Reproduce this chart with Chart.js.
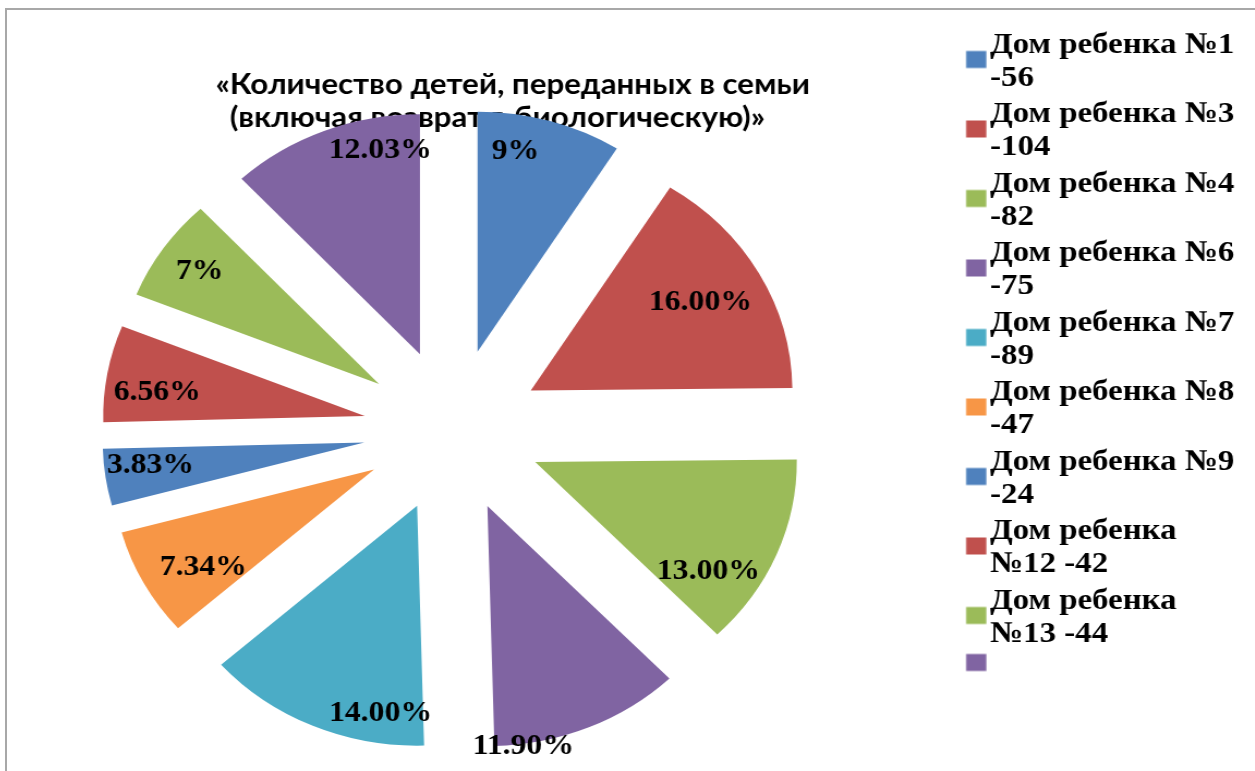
<!DOCTYPE html>
<html><head><meta charset="utf-8">
<script src="https://cdn.jsdelivr.net/npm/chart.js@4.4.1/dist/chart.umd.min.js"></script>
<style>
html,body{margin:0;padding:0;background:#fff;overflow:hidden;width:1255px;height:771px;position:relative;}
#frame{position:absolute;left:5px;top:8px;width:1400px;height:900px;border:2px solid #a8a8a8;box-sizing:border-box;}
#c{position:absolute;top:0;}
</style></head><body>
<div id="frame"></div>
<canvas id="c"></canvas>
<script>
// ---- data ----
const categories = ['Дом ребенка №1','Дом ребенка №3','Дом ребенка №4','Дом ребенка №6','Дом ребенка №7','Дом ребенка №8','Дом ребенка №9','Дом ребенка №12','Дом ребенка №13',''];
const counts = [56, 104, 82, 75, 89, 47, 24, 42, 44, null];
const shares = [9, 16, 13, 11.9, 14, 7.34, 3.83, 6.56, 7, 12.03];
const shareDecimals = [0, 2, 2, 2, 2, 2, 2, 2, 0, 2];
const titleLines = ['«Количество детей, переданных в семьи', '(включая возврат в биологическую)»'];

// ---- style ----
const colors = ['#4F81BD','#C0504D','#9BBB59','#8064A2','#4BACC6','#F79646','#4F81BD','#C0504D','#9BBB59','#8064A2'];
const SX = 1.09;             // horizontal stretch of the picture
const OX = 60;               // canvas offset to the left (logical px)
const W = 1212, H = 900;
const RADIUS = 240, EXPLODE = 82;
const SERIF = '"Liberation Serif", "Times New Roman", serif';
const SANS = 'Lato, "Open Sans", sans-serif';
const TITLE_X = [470, 456], TITLE_Y = 85, TITLE_LH = 33;

const mctx = document.createElement('canvas').getContext('2d');
function fitSize(family, text, target) {
  mctx.font = 'bold 100px ' + family;
  return Math.round(100 * target / mctx.measureText(text).width * 10) / 10;
}
const LEG_FS = fitSize(SERIF, 'Дом ребенка №1', 224.5);
const LBL_FS = fitSize(SERIF, '16.00%', 94.5);
const TITLE_FS = fitSize(SANS, titleLines[0], 546);
const LEG_LH = 33, LEG_PAD = 3.5;
const LEG_FONT = {family: SERIF, size: LEG_FS, weight: 'bold', lineHeight: LEG_LH / LEG_FS};
const LBL_FONT = 'bold ' + LBL_FS + 'px ' + SERIF;
const TITLE_FONT = 'bold ' + TITLE_FS + 'px ' + SANS;
const labelPlace = [
  {rho: 0.845, da: -6.2}, {rho: 0.746, da: -0.4}, {rho: 0.805, da: 12}, {rho: 1.01, da: 15},
  {rho: 0.875, da: -14.3}, {rho: 0.771, da: -3.8}, {rho: 0.823, da: 1.8}, {rho: 0.799, da: -3.3},
  {rho: 0.832, da: 0}, {rho: 0.864, da: 11.4}
];

const canvas = document.getElementById('c');
canvas.width = W; canvas.height = H;
canvas.style.width = (W * SX) + 'px';
canvas.style.height = H + 'px';
canvas.style.left = (-OX * SX) + 'px';

mctx.font = 'bold ' + LEG_FS + 'px ' + SERIF;
const wrapW = mctx.measureText('Дом ребенка №9').width + 1;
function wrap(text) {
  if (!text) return '';
  const words = text.split(' ');
  const lines = [];
  let cur = '';
  for (const w of words) {
    const t = cur ? cur + ' ' + w : w;
    if (cur && mctx.measureText(t).width > wrapW) { lines.push(cur); cur = w; }
    else cur = t;
  }
  if (cur) lines.push(cur);
  return lines;
}
const legendLabels = categories.map((c, i) => c ? wrap(c + ' -' + counts[i]) : '');

// legend box images (square vertically centred on the item block)
const BOX_W = 18.5, BOX_H = 17, BOX_GAP = 3.5;
function boxImage(color, nLines) {
  const left = BOX_W / 2 + LEG_FS / 2 - BOX_GAP - BOX_W;   // relative to point centre
  const shift = nLines > 1 ? (nLines - 1) * LEG_LH / 2 - 2 : -8;
  const iw = Math.ceil(2 * (Math.abs(left) + BOX_W) + 2);
  const ih = Math.ceil(2 * (Math.abs(shift) + BOX_H) + 2);
  const c = document.createElement('canvas');
  c.width = iw; c.height = ih;
  const g = c.getContext('2d');
  g.fillStyle = color;
  g.fillRect(iw / 2 + left, ih / 2 + shift - BOX_H / 2, BOX_W, BOX_H);
  return c;
}

// legend geometry -> layout padding
let maxItemText = 0;
legendLabels.forEach(l => {
  const t = Array.isArray(l) ? l.reduce((a, b) => a.length > b.length ? a : b) : l;
  maxItemText = Math.max(maxItemText, mctx.measureText(t).width);
});
const legendWidth = LEG_PAD + (BOX_W + LEG_FS / 2 + maxItemText) + 10;
const legendLeft = 908 + OX - LEG_PAD - BOX_W - LEG_FS / 2;
const padRight = W - legendWidth - legendLeft;
const centerX = 415 + OX, centerY = 430.5;
const padLeft = 2 * centerX - legendLeft;
const padTop = 45 - LEG_PAD - LEG_FS / 2;
const padBottom = padTop + H - 2 * centerY;

const explodePlugin = {
  id: 'explode',
  beforeDatasetDraw(chart, args) {
    const ctx = chart.ctx;
    args.meta.data.forEach(arc => {
      const mid = (arc.startAngle + arc.endAngle) / 2;
      ctx.save();
      ctx.translate(Math.cos(mid) * EXPLODE, Math.sin(mid) * EXPLODE);
      arc.draw(ctx, chart.chartArea);
      ctx.restore();
    });
    return false;
  }
};

const titlePlugin = {
  id: 'customTitle',
  beforeDatasetsDraw(chart) {
    const ctx = chart.ctx;
    ctx.save();
    ctx.font = TITLE_FONT;
    ctx.fillStyle = '#000';
    ctx.textAlign = 'center';
    ctx.textBaseline = 'middle';
    titleLines.forEach((t, i) => ctx.fillText(t, TITLE_X[i] + OX, TITLE_Y + i * TITLE_LH));
    ctx.restore();
  }
};

const labelPlugin = {
  id: 'sliceLabels',
  afterDatasetsDraw(chart) {
    const ctx = chart.ctx;
    const meta = chart.getDatasetMeta(0);
    ctx.save();
    ctx.font = LBL_FONT;
    ctx.fillStyle = '#000';
    ctx.textAlign = 'center';
    ctx.textBaseline = 'middle';
    meta.data.forEach((arc, i) => {
      const mid = (arc.startAngle + arc.endAngle) / 2;
      const p = labelPlace[i];
      const a = mid + p.da * Math.PI / 180;
      const x = arc.x + Math.cos(mid) * EXPLODE + Math.cos(a) * p.rho * arc.outerRadius;
      const y = arc.y + Math.sin(mid) * EXPLODE + Math.sin(a) * p.rho * arc.outerRadius;
      ctx.fillText(shares[i].toFixed(shareDecimals[i]) + '%', x, y);
    });
    ctx.restore();
  }
};

new Chart(canvas, {
  type: 'pie',
  data: {
    labels: legendLabels,
    datasets: [{
      data: shares,
      backgroundColor: colors,
      borderWidth: 0,
      radius: RADIUS
    }]
  },
  options: {
    responsive: false,
    animation: false,
    events: [],
    layout: {padding: {left: padLeft, right: padRight, top: padTop, bottom: padBottom}},
    plugins: {
      title: {display: false},
      tooltip: {enabled: false},
      legend: {
        display: true,
        position: 'right',
        align: 'start',
        labels: {
          color: '#000',
          font: LEG_FONT,
          padding: LEG_PAD,
          boxWidth: BOX_W,
          boxHeight: BOX_H,
          usePointStyle: true,
          generateLabels(chart) {
            const meta = chart.getDatasetMeta(0);
            return chart.data.labels.map((label, i) => {
              const style = meta.controller.getStyle(i);
              const n = Array.isArray(label) ? label.length : 1;
              return {
                text: label,
                fillStyle: style.backgroundColor,
                strokeStyle: style.backgroundColor,
                lineWidth: 0,
                pointStyle: boxImage(style.backgroundColor, n),
                hidden: false,
                index: i
              };
            });
          }
        }
      }
    }
  },
  plugins: [explodePlugin, titlePlugin, labelPlugin]
});
</script>
</body></html>
